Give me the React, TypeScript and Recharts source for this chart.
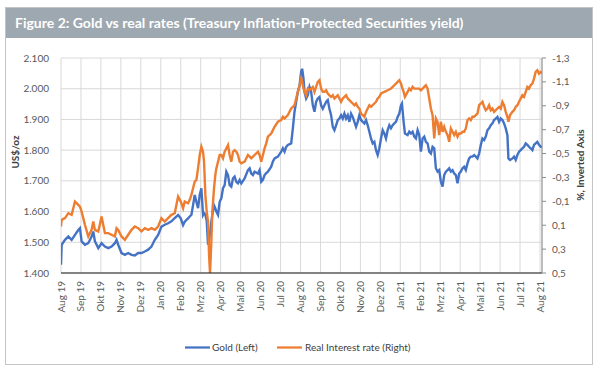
import React from "react";
import { ComposedChart, Line, XAxis, YAxis, CartesianGrid } from "recharts";

const monthLabels = ["Aug 19","Sep 19","Okt 19","Nov 19","Dez 19","Jan 20","Feb 20","Mrz 20","Apr 20","Mai 20","Jun 20","Jul 20","Aug 20","Sep 20","Okt 20","Nov 20","Dez 20","Jan 21","Feb 21","Mrz 21","Apr 21","Mai 21","Jun 21","Jul 21","Aug 21"];

// time in months since Aug 2019
const timeMonths = [
  0, 0.033, 0.2, 0.367, 0.533, 0.7, 0.867, 0.95, 1.033, 1.2, 1.367, 1.533, 1.617, 1.7, 1.867, 2.033, 2.2, 2.367, 2.533, 2.7, 2.783, 2.867,
  3.033, 3.2, 3.367, 3.533, 3.7, 3.867, 4.033, 4.2, 4.367, 4.533, 4.7, 4.867, 5.033, 5.2, 5.367, 5.533, 5.7, 5.867,
  6, 6.117, 6.2, 6.367, 6.45, 6.533, 6.617, 6.7, 6.783, 6.867, 6.95, 7.033, 7.117, 7.167, 7.233, 7.3, 7.367, 7.417, 7.467, 7.533, 7.583, 7.667, 7.733, 7.783, 7.867, 7.95,
  8.033, 8.117, 8.2, 8.283, 8.367, 8.45, 8.533, 8.617, 8.7, 8.783, 8.867, 8.95, 9.033, 9.2, 9.367, 9.45, 9.533, 9.617, 9.7, 9.867, 9.95,
  10.033, 10.117, 10.2, 10.283, 10.367, 10.533, 10.617, 10.7, 10.867, 11.033, 11.117, 11.2, 11.283, 11.367, 11.533, 11.617, 11.7, 11.783, 11.867, 11.95,
  12.033, 12.083, 12.15, 12.2, 12.283, 12.367, 12.45, 12.533, 12.617, 12.7, 12.783, 12.867, 12.95, 13.033, 13.117, 13.2, 13.283, 13.367, 13.45, 13.533, 13.617, 13.7, 13.783, 13.867, 13.95,
  14.033, 14.117, 14.2, 14.283, 14.367, 14.45, 14.533, 14.617, 14.7, 14.783, 14.867, 14.95, 15.033, 15.117, 15.2, 15.283, 15.367, 15.45, 15.533, 15.617, 15.7, 15.783, 15.867, 15.95,
  16.033, 16.117, 16.2, 16.283, 16.367, 16.45, 16.533, 16.617, 16.7, 16.783, 16.867, 16.95, 17.033, 17.083, 17.167, 17.233, 17.367, 17.45, 17.533, 17.617, 17.7, 17.783, 17.867, 17.95,
  18.033, 18.117, 18.2, 18.283, 18.367, 18.45, 18.533, 18.617, 18.7, 18.783, 18.867, 18.95, 19.033, 19.117, 19.2, 19.283, 19.367, 19.45, 19.533, 19.617, 19.7, 19.783, 19.867, 19.95,
  20.033, 20.117, 20.2, 20.283, 20.367, 20.45, 20.533, 20.617, 20.7, 20.783, 20.867, 20.95, 21.033, 21.117, 21.2, 21.283, 21.367, 21.45, 21.533, 21.617, 21.7, 21.783, 21.867, 21.95,
  22.033, 22.117, 22.2, 22.283, 22.367, 22.417, 22.5, 22.617, 22.7, 22.783, 22.867, 22.95, 23.033, 23.117, 23.2, 23.283, 23.367, 23.45, 23.533, 23.617, 23.7, 23.783, 23.867, 23.95,
  24.033, 24.1
];

const goldUsd = [
  1427, 1492, 1508, 1519, 1508, 1524, 1540, 1546, 1503, 1492, 1497, 1519, 1535, 1503, 1481, 1497, 1486, 1481, 1486, 1497, 1508, 1492,
  1465, 1459, 1465, 1459, 1457, 1465, 1465, 1470, 1476, 1486, 1508, 1524, 1551, 1557, 1562, 1568, 1579, 1589,
  1578, 1556, 1567, 1578, 1584, 1589, 1621, 1654, 1632, 1611, 1654, 1676, 1589, 1595, 1590, 1570, 1492, 1510, 1530, 1567, 1590, 1620, 1610, 1600, 1589, 1632,
  1643, 1676, 1686, 1730, 1719, 1686, 1681, 1708, 1714, 1697, 1692, 1703, 1692, 1708, 1735, 1741, 1724, 1719, 1730, 1724, 1735,
  1697, 1703, 1719, 1725, 1730, 1746, 1763, 1773, 1779, 1795, 1806, 1795, 1811, 1817, 1822, 1871, 1925, 1957, 1990, 2010,
  2055, 2065, 2033, 1990, 1968, 1979, 2006, 1990, 1946, 1925, 1957, 1968, 1973, 1946, 1935, 1946, 1957, 1963, 1935, 1914, 1876, 1865, 1881, 1898, 1903,
  1914, 1903, 1919, 1903, 1914, 1892, 1919, 1908, 1892, 1876, 1892, 1914, 1898, 1892, 1887, 1898, 1881, 1860, 1838, 1822, 1827, 1800, 1784, 1806,
  1838, 1865, 1854, 1838, 1865, 1881, 1871, 1881, 1887, 1892, 1908, 1919, 1946, 1952, 1892, 1854, 1849, 1860, 1854, 1860, 1844, 1838, 1865, 1849,
  1795, 1838, 1844, 1827, 1822, 1795, 1789, 1811, 1806, 1741, 1730, 1735, 1697, 1681, 1719, 1730, 1735, 1741, 1730, 1735, 1724, 1719, 1692, 1724,
  1730, 1741, 1746, 1735, 1757, 1773, 1779, 1779, 1784, 1779, 1773, 1789, 1817, 1838, 1833, 1844, 1865, 1871, 1881, 1887, 1898, 1903, 1908, 1892,
  1903, 1898, 1887, 1871, 1849, 1773, 1768, 1773, 1779, 1768, 1784, 1795, 1800, 1806, 1811, 1822, 1817, 1811, 1806, 1800, 1817, 1822, 1827, 1817,
  1811, 1812
];

const realRate = [
  0.111, 0.055, 0.041, 0.0, 0.013, -0.098, -0.07, -0.056, -0.014, 0.097, 0.194, 0.139, 0.069, 0.139, 0.152, 0.027, 0.166, 0.166, 0.18, 0.194, 0.125, 0.139,
  0.194, 0.222, 0.18, 0.139, 0.111, 0.125, 0.152, 0.125, 0.139, 0.125, 0.139, 0.111, 0.041, 0.069, 0.041, 0.013, 0.0, -0.14,
  -0.098, -0.042, -0.098, -0.084, -0.112, -0.154, -0.209, -0.265, -0.279, -0.376, -0.488, -0.557, -0.515, -0.432, -0.154, -0.014, 0.069, 0.347, 0.5, 0.236, -0.014, -0.209, -0.321, -0.376, -0.432, -0.488,
  -0.488, -0.46, -0.515, -0.543, -0.571, -0.488, -0.432, -0.515, -0.529, -0.515, -0.488, -0.432, -0.418, -0.432, -0.488, -0.474, -0.46, -0.474, -0.488, -0.515, -0.488,
  -0.432, -0.488, -0.543, -0.585, -0.641, -0.668, -0.696, -0.724, -0.766, -0.78, -0.808, -0.794, -0.808, -0.822, -0.877, -0.891, -0.905, -0.961, -1.016, -1.065,
  -1.128, -1.1, -1.044, -1.016, -0.988, -1.044, -1.03, -1.044, -1.058, -1.016, -1.058, -1.1, -1.114, -1.044, -1.016, -1.016, -1.03, -1.002, -0.988, -0.975, -0.988, -0.961, -0.975, -0.988, -0.961,
  -0.933, -0.961, -0.975, -0.988, -0.961, -0.947, -0.933, -0.919, -0.905, -0.919, -0.891, -0.877, -0.835, -0.822, -0.808, -0.849, -0.877, -0.905, -0.891, -0.905, -0.919, -0.933, -0.961, -0.975,
  -1.002, -1.011, -1.016, -1.022, -1.03, -1.036, -1.044, -1.058, -1.072, -1.086, -1.1, -1.114, -1.086, -1.058, -1.016, -0.975, -1.016, -1.044, -1.03, -1.058, -1.044, -1.044, -1.044, -1.044,
  -1.03, -1.044, -1.058, -1.072, -1.044, -0.961, -0.877, -0.822, -0.627, -0.794, -0.766, -0.655, -0.766, -0.682, -0.724, -0.682, -0.655, -0.599, -0.71, -0.682, -0.655, -0.682, -0.641, -0.668,
  -0.668, -0.682, -0.682, -0.71, -0.78, -0.794, -0.78, -0.808, -0.808, -0.822, -0.835, -0.905, -0.919, -0.933, -0.891, -0.863, -0.877, -0.905, -0.863, -0.877, -0.849, -0.863, -0.877, -0.891,
  -0.877, -0.933, -0.905, -0.849, -0.808, -0.766, -0.822, -0.849, -0.863, -0.891, -0.905, -0.933, -0.961, -0.988, -0.975, -1.016, -1.058, -1.044, -1.072, -1.086, -1.128, -1.183, -1.197, -1.169,
  -1.183, -1.17
];

const goldTicks = [1400, 1500, 1600, 1700, 1800, 1900, 2000, 2100];
const rateTicks = [-1.3, -1.1, -0.9, -0.7, -0.5, -0.3, -0.1, 0.1, 0.3, 0.5];

const data = timeMonths.map((t, i) => ({ t, gold: goldUsd[i], rate: realRate[i] }));

const FONT = "Lato, 'Open Sans', sans-serif";
const BLUE = "#4472C4";
const ORANGE = "#ED7D31";

const MonthTick = (props: any) => {
  const { x, payload } = props;
  const label = monthLabels[Math.round(payload.value)] ?? "";
  return (
    <g transform={`translate(${x + 3.5},${281})`}>
      <text transform="rotate(-90)" textAnchor="end" fontSize={10} fill="#595959" fontFamily={FONT}>
        {label}
      </text>
    </g>
  );
};

export default function App() {
  return (
    <div style={{ position: "absolute", left: 0, top: 0, width: 600, height: 373, background: "#fff", fontFamily: FONT }}>
      <div style={{ position: "absolute", left: 5, top: 7, width: 588, height: 358, border: "1px solid #c4c4c4", boxSizing: "border-box" }} />
      <div style={{ position: "absolute", left: 6, top: 8, width: 586, height: 30, background: "#9EA8B0", color: "#fff", fontWeight: 700, fontSize: 14, lineHeight: "30px", paddingLeft: 9, boxSizing: "border-box", whiteSpace: "nowrap" }}>
        Figure 2: Gold vs real rates (Treasury Inflation-Protected Securities yield)
      </div>
      <div style={{ position: "absolute", left: 0, top: 0 }}>
        <ComposedChart width={600} height={373} data={data} margin={{ top: 58, right: 0, bottom: 0, left: 0 }}>
          <CartesianGrid yAxisId="left" stroke="#d9d9d9" strokeWidth={1} />
          <XAxis
            dataKey="t"
            type="number"
            domain={[0, 24.1]}
            ticks={monthLabels.map((_, i) => i)}
            interval={0}
            tick={<MonthTick />}
            tickLine={false}
            axisLine={{ stroke: "#1a1a1a", strokeWidth: 1.2 }}
            height={100}
            allowDataOverflow
          />
          <YAxis
            yAxisId="left"
            domain={[1400, 2100]}
            ticks={goldTicks}
            width={61}
            axisLine={false}
            tickLine={false}
            tickSize={6}
            tickMargin={6}
            tick={{ fontSize: 10, fill: "#595959", fontFamily: FONT }}
            tickFormatter={(v: number) => (v / 1000).toFixed(3)}
            allowDataOverflow
          />
          <YAxis
            yAxisId="right"
            orientation="right"
            domain={[-1.3, 0.5]}
            ticks={rateTicks}
            reversed
            width={58}
            axisLine={{ stroke: "#8c8c8c" }}
            tickLine={{ stroke: "#8c8c8c" }}
            tickSize={4}
            tickMargin={6}
            tick={{ fontSize: 10, fill: "#595959", fontFamily: FONT }}
            tickFormatter={(v: number) => v.toFixed(1).replace(".", ",")}
            allowDataOverflow
          />
          <Line yAxisId="left" dataKey="gold" stroke={BLUE} strokeWidth={2.4} dot={false} isAnimationActive={false} />
          <Line yAxisId="right" dataKey="rate" stroke={ORANGE} strokeWidth={2.4} dot={false} isAnimationActive={false} />
        </ComposedChart>
      </div>
      <svg width={600} height={373} style={{ position: "absolute", left: 0, top: 0, pointerEvents: "none" }}>
        <text transform="translate(19,152) rotate(-90)" textAnchor="middle" fontSize={10} fontWeight={700} fill="#404040" fontFamily={FONT}>US$/oz</text>
        <text transform="translate(584,165) rotate(-90)" textAnchor="middle" fontSize={10} fontWeight={700} fill="#404040" fontFamily={FONT}>%, Inverted Axis</text>
        <line x1={185} y1={347.5} x2={210} y2={347.5} stroke={BLUE} strokeWidth={2.25} />
        <text x={212} y={351} fontSize={10} fill="#404040" fontFamily={FONT}>Gold (Left)</text>
        <line x1={277} y1={347.5} x2={302} y2={347.5} stroke={ORANGE} strokeWidth={2.25} />
        <text x={305} y={351} fontSize={10} fill="#404040" fontFamily={FONT}>Real Interest rate (Right)</text>
      </svg>
    </div>
  );
}
